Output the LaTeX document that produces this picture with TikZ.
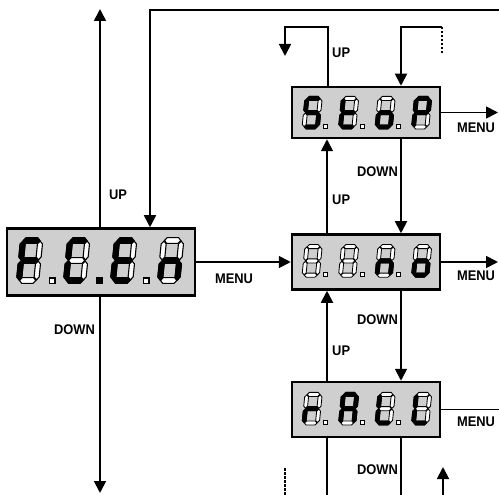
\documentclass[tikz,border=0pt]{standalone}
\usepackage{fontspec}
\setmainfont{Liberation Sans}
\usetikzlibrary{arrows.meta}
\def\st{0.145}
\def\sg{0.03}
\newcommand\hseg[2]{\filldraw[fill=#2] (\sg,#1) -- (\sg+\st,#1+\st) -- (1-\sg-\st,#1+\st) -- (1-\sg,#1) -- (1-\sg-\st,#1-\st) -- (\sg+\st,#1-\st) -- cycle;}
\newcommand\vseg[3]{\filldraw[fill=#3] (#1,#2+\sg) -- (#1+\st,#2+\sg+\st) -- (#1+\st,#2+1-\sg-\st) -- (#1,#2+1-\sg) -- (#1-\st,#2+1-\sg-\st) -- (#1-\st,#2+\sg+\st) -- cycle;}
\newcommand\segm[2]{%
  \if a#1\hseg{2}{#2}\fi
  \if g#1\hseg{1}{#2}\fi
  \if d#1\hseg{0}{#2}\fi
  \if f#1\vseg{0}{1}{#2}\fi
  \if b#1\vseg{1}{1}{#2}\fi
  \if e#1\vseg{0}{0}{#2}\fi
  \if c#1\vseg{1}{0}{#2}\fi}
% #1 x, #2 y (origin, pixels), #3 ux, #4 uy, #5 lit segments
\newcommand\sevenseg[5]{%
  \begin{scope}[shift={(#1,#2)}, x={(#3pt,0pt)}, y={(0.1*#4pt,#4pt)}]
    \foreach \s in {a,b,c,d,e,f,g}{\segm{\s}{white}}
    \foreach \s in {#5}{\segm{\s}{black}}
  \end{scope}}
\newcommand\lbltext[1]{\scalebox{0.92}[1]{#1}}
\begin{document}
\begin{tikzpicture}[x=1pt,y=-1pt,
  disp/.style={draw,line width=2.5pt,fill=black!19,inner sep=0pt},
  conn/.style={line width=1.8pt},
  arr/.style={conn,-{Triangle[length=12pt,width=12pt]}},
  dsh/.style={line width=1.8pt,dash pattern=on 2.5pt off 1.5pt},
  lbl/.style={font=\fontsize{14}{14}\selectfont\bfseries,inner sep=0pt},
  bigseg/.style={line width=1.1pt},
  smallseg/.style={line width=0.85pt}]
\useasboundingbox (0,0) rectangle (499,495);

% display boxes
\node[disp,minimum width=188pt,minimum height=67pt] (L) at (101,262) {};
\node[disp,minimum width=148pt,minimum height=51pt] (R1) at (366,112.5) {};
\node[disp,minimum width=148pt,minimum height=55pt] (R2) at (366,262) {};
\node[disp,minimum width=148pt,minimum height=55pt] (R3) at (366,409.5) {};

% left display F.C.E.n
\begin{scope}[bigseg]
\sevenseg{19}{280.5}{17.3}{20}{a,f,g,e}
\sevenseg{66}{280.5}{17.3}{20}{a,f,e,d}
\sevenseg{113}{280.5}{17.3}{20}{a,f,g,e,d}
\sevenseg{160}{280.5}{17.3}{20}{e,g,c}
\filldraw[fill=white] (49.5,278) rectangle ++(5.5,5.5);
\filldraw[fill=black] (96.5,278) rectangle ++(5.5,5.5);
\filldraw[fill=white] (143.5,278) rectangle ++(5.5,5.5);
\end{scope}

% right displays
\begin{scope}[smallseg]
% StoP
\sevenseg{304}{127}{13.4}{14.3}{a,f,g,c,d}
\sevenseg{340.5}{127}{13.4}{14.3}{f,g,e,d}
\sevenseg{377}{127}{13.4}{14.3}{g,c,d,e}
\sevenseg{413.5}{127}{13.4}{14.3}{a,b,f,g,e}
% no
\sevenseg{304}{275.2}{13.4}{14.3}{x}
\sevenseg{340.5}{275.2}{13.4}{14.3}{x}
\sevenseg{377}{275.2}{13.4}{14.3}{e,g,c}
\sevenseg{413.5}{275.2}{13.4}{14.3}{g,c,d,e}
% rALL
\sevenseg{304}{423}{13.4}{14.3}{e,g}
\sevenseg{340.5}{423}{13.4}{14.3}{a,b,c,e,f,g}
\sevenseg{377}{423}{13.4}{14.3}{f,e,d}
\sevenseg{413.5}{423}{13.4}{14.3}{f,e,d}
\foreach \yy in {124.5,272.5,420.5}{
  \foreach \xx in {323.5,360,396.5}{
    \filldraw[fill=white] (\xx,\yy) rectangle ++(4,4);}}
\end{scope}

% left column connectors
\coordinate (lt) at (100,9);
\coordinate (lb) at (100,493);
\coordinate (tr) at (499,10);
\coordinate (tl) at (150,10);
\draw[arr] (L.north -| lt) -- (lt);
\draw[arr] (L.south -| lb) -- (lb);
\draw[arr] (tr) -- (tl) -- (L.north -| tl);
\draw[arr] (L.east) -- (R2.west);

% top loops
\coordinate (u1) at (328,27);
\coordinate (u2) at (285,27);
\coordinate (u3) at (285,56);
\draw[arr] (R1.north -| u1) -- (u1) -- (u2) -- (u3);
\coordinate (d1) at (401,27);
\coordinate (d2) at (442,27);
\coordinate (d3) at (442,53);
\draw[arr] (d2) -- (d1) -- (R1.north -| d1);
\draw[dsh] (d2) -- (d3);

% between displays
\coordinate (cu) at (327,0);
\coordinate (cd) at (401,0);
\draw[arr] (R2.north -| cu) -- (R1.south -| cu);
\draw[arr] (R1.south -| cd) -- (R2.north -| cd);
\draw[arr] (R3.north -| cu) -- (R2.south -| cu);
\draw[arr] (R2.south -| cd) -- (R3.north -| cd);

% below bottom display
\coordinate (bu) at (327,495);
\coordinate (bd) at (401,495);
\draw[conn] (R3.south -| bu) -- (bu);
\draw[conn] (R3.south -| bd) -- (bd);
\coordinate (bl1) at (285,468);
\coordinate (bl2) at (285,495);
\draw[dsh] (bl1) -- (bl2);
\coordinate (ba1) at (443,495);
\coordinate (ba2) at (443,467);
\draw[arr] (ba1) -- (ba2);

% menu exits
\coordinate (mx) at (499,0);
\coordinate (mxa) at (498,0);
\draw[arr] (R1.east) -- (R1.east -| mxa);
\draw[arr] (R2.east) -- (R2.east -| mxa);
\draw[conn] (R3.east) -- (R3.east -| mx);

% labels
\node[lbl,anchor=west] (tUPL) at (109,195) {\lbltext{UP}};
\node[lbl,anchor=east] (tDNL) at (95,330) {\lbltext{DOWN}};
\node[lbl] (tMENUL) at (234,279) {\lbltext{MENU}};
\node[lbl] (tMENU1) at (476,128) {\lbltext{MENU}};
\node[lbl] (tMENU2) at (476,276) {\lbltext{MENU}};
\node[lbl] (tMENU3) at (476,422) {\lbltext{MENU}};
\node[lbl,anchor=west] (tUP0) at (332,53) {\lbltext{UP}};
\node[lbl,anchor=east] (tDN1) at (398,172) {\lbltext{DOWN}};
\node[lbl,anchor=west] (tUP1) at (332,200) {\lbltext{UP}};
\node[lbl,anchor=east] (tDN2) at (398,320) {\lbltext{DOWN}};
\node[lbl,anchor=west] (tUP2) at (332,351) {\lbltext{UP}};
\node[lbl,anchor=east] (tDN3) at (398,470) {\lbltext{DOWN}};
\end{tikzpicture}
\end{document}
